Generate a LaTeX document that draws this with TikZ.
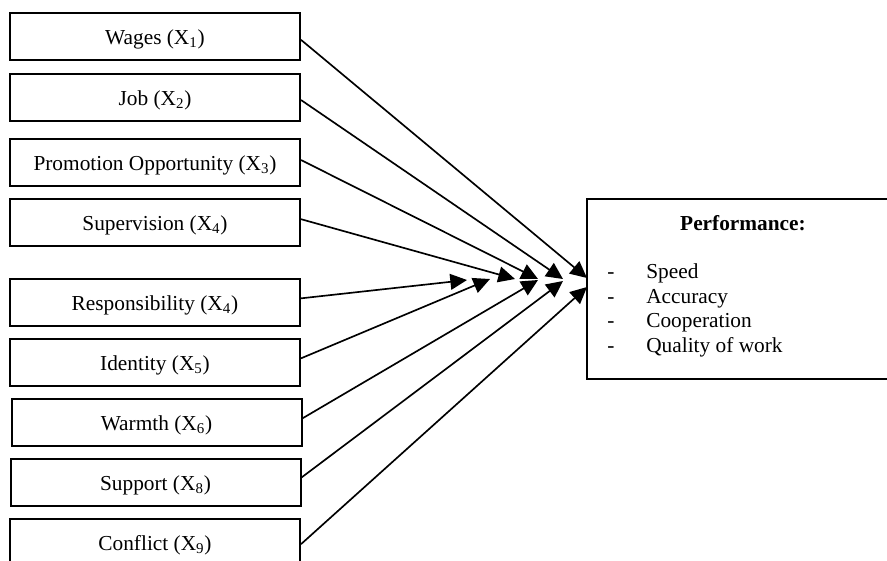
\documentclass[tikz,border=0pt]{standalone}
\usepackage{fontspec}
\setmainfont{Liberation Serif}
\usetikzlibrary{arrows.meta}
\begin{document}
\begin{tikzpicture}[x=0.6pt,y=-0.6pt,
  varbox/.style={draw,line width=1.2pt,minimum width=174pt,minimum height=28.2pt,inner sep=0pt,text height=11pt,text depth=2pt,font=\fontsize{12.8}{15}\selectfont},
  perfbox/.style={draw,line width=1.2pt,minimum width=187.2pt,minimum height=108pt,inner sep=0pt},
  txt/.style={inner sep=0pt,font=\fontsize{12.8}{15}\selectfont},
  conn/.style={line width=1pt,-{Triangle[length=10pt,width=9.5pt]}}]
\useasboundingbox (0,0) rectangle (887,560);
\fill[white] (0,0) rectangle (887,560);
\node[varbox] (x1) at (155,36.5) {Wages (X\textsubscript{1})};
\node[varbox] (x2) at (155,97.5) {Job (X\textsubscript{2})};
\node[varbox] (x3) at (155,162.5) {Promotion Opportunity (X\textsubscript{3})};
\node[varbox] (x4) at (155,222.5) {Supervision (X\textsubscript{4})};
\node[varbox] (x5) at (155,302.5) {Responsibility (X\textsubscript{4})};
\node[varbox] (x6) at (155,362.5) {Identity (X\textsubscript{5})};
\node[varbox] (x7) at (156.5,422.5) {Warmth (X\textsubscript{6})};
\node[varbox] (x8) at (155.5,482.5) {Support (X\textsubscript{8})};
\node[varbox] (x9) at (155,542.5) {Conflict (X\textsubscript{9})};
\node[perfbox] (perf) at (743,289) {};
\node[txt,anchor=base,font=\fontsize{12.8}{15}\selectfont\bfseries] (ptitle) at (743,230) {Performance:};
\node[txt,anchor=base] (d1) at (611,278) {-};
\node[txt,anchor=base] (d2) at (611,303) {-};
\node[txt,anchor=base] (d3) at (611,327) {-};
\node[txt,anchor=base] (d4) at (611,352) {-};
\node[txt,anchor=base west] (i1) at (646,278) {Speed};
\node[txt,anchor=base west] (i2) at (646,303) {Accuracy};
\node[txt,anchor=base west] (i3) at (646,327) {Cooperation};
\node[txt,anchor=base west] (i4) at (646,352) {Quality of work};
\coordinate (t1) at (587,278);
\coordinate (t2) at (563,279);
\coordinate (t3) at (538,279);
\coordinate (t4) at (515,279);
\coordinate (t5) at (467,280);
\coordinate (t6) at (490,279);
\coordinate (t7) at (538,280);
\coordinate (t8) at (563,281);
\coordinate (t9) at (587,287);
\draw[conn] ([yshift=-2pt]x1.east) -- (t1);
\draw[conn] ([yshift=-1.5pt]x2.east) -- (t2);
\draw[conn] ([yshift=1.5pt]x3.east) -- (t3);
\draw[conn] ([yshift=2pt]x4.east) -- (t4);
\draw[conn] ([yshift=2.5pt]x5.east) -- (t5);
\draw[conn] ([yshift=2.5pt]x6.east) -- (t6);
\draw[conn] ([yshift=2.5pt]x7.east) -- (t7);
\draw[conn] ([yshift=3pt]x8.east) -- (t8);
\draw[conn] ([yshift=-1pt]x9.east) -- (t9);
\end{tikzpicture}
\end{document}
